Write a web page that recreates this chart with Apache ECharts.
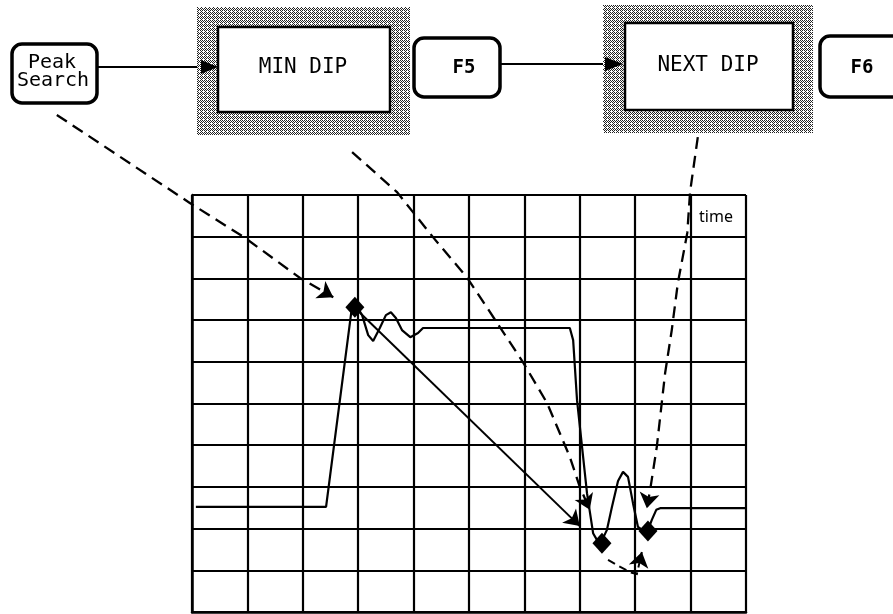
<!DOCTYPE html>
<html><head><meta charset="utf-8">
<script src="https://cdn.jsdelivr.net/npm/echarts@6/dist/echarts.min.js"></script>
<style>html,body{margin:0;padding:0;background:#fff}#c{width:893px;height:614px}</style>
</head><body><div id="c"></div>
<script>
// ---- data (grid units: 10 x 10 divisions) ----
const xDivisions = [0, 10];
const yDivisions = [0, 10];
const traceX = [0.07, 2.42, 2.89, 2.96, 3.07, 3.18, 3.27, 3.39, 3.50, 3.59, 3.68, 3.79, 3.94, 4.08, 4.17, 6.82, 6.88, 6.95, 7.13, 7.24, 7.36, 7.49, 7.58, 7.69, 7.78, 7.87, 7.96, 8.05, 8.21, 8.30, 8.38, 8.45, 10.0];
const traceY = [2.52, 2.52, 7.34, 7.36, 7.12, 6.64, 6.50, 6.81, 7.12, 7.19, 7.05, 6.76, 6.59, 6.69, 6.81, 6.81, 6.52, 5.08, 2.85, 1.89, 1.61, 1.97, 2.52, 3.14, 3.36, 3.24, 2.61, 2.04, 1.89, 2.21, 2.45, 2.49, 2.49];
const markerX = [2.94, 7.40, 8.23];
const markerY = [7.31, 1.65, 1.94];
const peakSearchArrowX = [-2.44, -0.04, 0.96, 1.95, 2.55];
const peakSearchArrowY = [11.92, 9.81, 8.97, 8.01, 7.55];
const minDipArrowX = [2.89, 3.70, 4.35, 4.96, 5.32, 5.97, 6.41, 6.82, 7.00, 7.18];
const minDipArrowY = [11.03, 10.07, 8.99, 8.03, 7.31, 6.00, 5.01, 3.72, 3.00, 2.45];
const nextDipArrowX = [9.13, 8.99, 8.94, 8.77, 8.66, 8.54, 8.39, 8.27, 8.21];
const nextDipArrowY = [11.39, 10.07, 9.09, 7.89, 6.76, 5.73, 3.96, 2.93, 2.49];
const peakToMinX = [2.98, 7.00];
const peakToMinY = [7.24, 2.06];
const minToNextX = [7.51, 7.73, 7.94, 8.03, 8.12];
const minToNextY = [1.25, 1.08, 0.94, 0.91, 1.44];
const labels = {peak: ['Peak', 'Search'], min: 'MIN DIP', next: 'NEXT DIP', f5: 'F5', f6: 'F6', time: 'time'};

const zip = (xs, ys) => xs.map((x, i) => [x, ys[i]]);

function makePattern() {
  const c = document.createElement('canvas');
  c.width = 4; c.height = 4;
  const g = c.getContext('2d');
  g.fillStyle = '#fff'; g.fillRect(0, 0, 4, 4);
  g.fillStyle = '#222';
  [[0,0],[2,0],[1,1],[3,1],[0,2],[2,2],[1,3]].forEach(p => g.fillRect(p[0], p[1], 1, 1));
  return c;
}
const pat = {image: makePattern(), repeat: 'repeat'};

const chart = echarts.init(document.getElementById('c'), null, {renderer: 'canvas'});
const axisCommon = {
  type: 'value', interval: 1,
  axisLabel: {show: false}, axisTick: {show: false},
  axisLine: {show: true, lineStyle: {color: '#000', width: 2.5}},
  splitLine: {show: true, showMinLine: true, showMaxLine: true, lineStyle: {color: '#000', width: 2.2}}
};
const monoFont = '"DejaVu Sans Mono", monospace';
const dashed = {color: '#000', width: 2.3, type: [12, 7]};

const graphic = [
  // Peak Search key
  {type: 'rect', shape: {x: 12, y: 44, width: 85, height: 59, r: 10}, style: {fill: '#fff', stroke: '#000', lineWidth: 3.5}},
  {type: 'text', style: {text: labels.peak[0], x: 52, y: 63, font: '20px ' + monoFont, align: 'center', verticalAlign: 'middle', fill: '#000'}},
  {type: 'text', style: {text: labels.peak[1], x: 53, y: 81, font: '20px ' + monoFont, align: 'center', verticalAlign: 'middle', fill: '#000'}},
  {type: 'line', shape: {x1: 97, y1: 67, x2: 204, y2: 67}, style: {stroke: '#000', lineWidth: 2}},
  {type: 'polygon', shape: {points: [[218, 67], [201, 60], [201, 74]]}, style: {fill: '#000'}, z: 10},
  // MIN DIP softkey
  {type: 'rect', shape: {x: 197, y: 7, width: 213, height: 128}, style: {fill: pat, stroke: null}},
  {type: 'rect', shape: {x: 218, y: 27, width: 172, height: 85}, style: {fill: '#fff', stroke: '#000', lineWidth: 2.5}},
  {type: 'text', style: {text: labels.min, x: 303, y: 68, font: '21px ' + monoFont, align: 'center', verticalAlign: 'middle', fill: '#000'}},
  // F5
  {type: 'rect', shape: {x: 414, y: 38, width: 86, height: 59, r: 10}, style: {fill: '#fff', stroke: '#000', lineWidth: 3.5}},
  {type: 'text', style: {text: labels.f5, x: 464, y: 68, font: 'bold 19px ' + monoFont, align: 'center', verticalAlign: 'middle', fill: '#000'}},
  {type: 'line', shape: {x1: 500, y1: 64, x2: 608, y2: 64}, style: {stroke: '#000', lineWidth: 2}},
  {type: 'polygon', shape: {points: [[623, 64], [605, 57], [605, 71]]}, style: {fill: '#000'}, z: 10},
  // NEXT DIP softkey
  {type: 'rect', shape: {x: 603, y: 5, width: 210, height: 128}, style: {fill: pat, stroke: null}},
  {type: 'rect', shape: {x: 625, y: 23, width: 168, height: 87}, style: {fill: '#fff', stroke: '#000', lineWidth: 2.5}},
  {type: 'text', style: {text: labels.next, x: 708, y: 66, font: '21px ' + monoFont, align: 'center', verticalAlign: 'middle', fill: '#000'}},
  // F6
  {type: 'rect', shape: {x: 820, y: 36, width: 90, height: 61, r: 10}, style: {fill: '#fff', stroke: '#000', lineWidth: 3.5}},
  {type: 'text', style: {text: labels.f6, x: 862, y: 68, font: 'bold 19px ' + monoFont, align: 'center', verticalAlign: 'middle', fill: '#000'}},
  // time label
  {type: 'text', style: {text: labels.time, x: 716, y: 217, font: '16px "Noto Sans", sans-serif', align: 'center', verticalAlign: 'middle', fill: '#000'}}
];

// path body (polyline) + arrowhead on final segment
const arrowSeries = (xs, ys, style) => {
  const pts = zip(xs, ys);
  return [
    {type: 'lines', coordinateSystem: 'cartesian2d', polyline: true, clip: false, silent: true, z: 5,
     symbol: 'none', lineStyle: Object.assign({opacity: 1}, style), data: [{coords: pts}]},
    {type: 'lines', coordinateSystem: 'cartesian2d', polyline: false, clip: false, silent: true, z: 6,
     symbol: ['none', 'arrow'], symbolSize: [11, 15],
     lineStyle: Object.assign({opacity: 1}, style, {type: 'solid', width: 0.01}),
     itemStyle: {color: '#000'},
     data: [{coords: [pts[pts.length - 2], pts[pts.length - 1]]}]}
  ];
};

chart.setOption({
  animation: false,
  backgroundColor: '#fff',
  grid: {left: 192, top: 195, width: 554, height: 417, show: false},
  xAxis: Object.assign({min: xDivisions[0], max: xDivisions[1]}, axisCommon),
  yAxis: Object.assign({min: yDivisions[0], max: yDivisions[1]}, axisCommon),
  graphic: graphic,
  series: [
    {type: 'line', data: zip(traceX, traceY), showSymbol: false, symbol: 'none', clip: false, z: 4,
     lineStyle: {color: '#000', width: 2.2}},
    {type: 'scatter', data: zip(markerX, markerY), symbol: 'diamond', symbolSize: [19, 21], z: 8,
     itemStyle: {color: '#000', opacity: 1}},
    ...arrowSeries(peakSearchArrowX, peakSearchArrowY, dashed),
    ...arrowSeries(minDipArrowX, minDipArrowY, dashed),
    ...arrowSeries(nextDipArrowX, nextDipArrowY, dashed),
    ...arrowSeries(peakToMinX, peakToMinY, {color: '#000', width: 2}),
    ...arrowSeries(minToNextX, minToNextY, {color: '#000', width: 2, type: [8, 5]})
  ]
});
</script></body></html>
